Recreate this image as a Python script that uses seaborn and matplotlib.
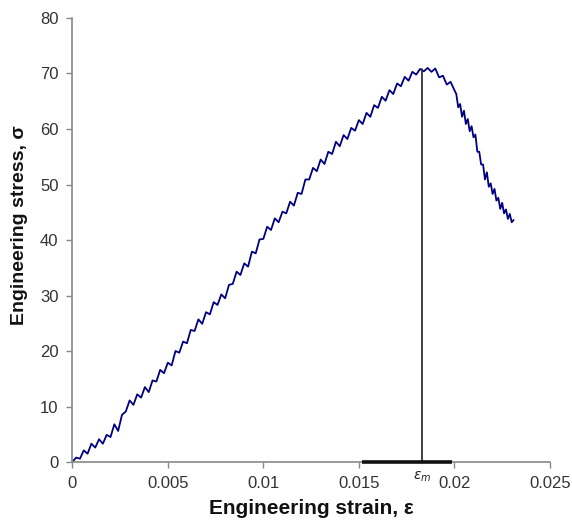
import matplotlib
matplotlib.use("Agg")
import matplotlib.pyplot as plt
import seaborn as sns
import pandas as pd

# ---- data (strain, stress) ----
strain = [0.0000, 0.0002, 0.0004, 0.0006, 0.0008, 0.0010, 0.0012, 0.0014, 0.0016, 0.0018,
          0.0020, 0.0022, 0.0024, 0.0026, 0.0028, 0.0030, 0.0032, 0.0034, 0.0036, 0.0038,
          0.0040, 0.0042, 0.0044, 0.0046, 0.0048, 0.0050, 0.0052, 0.0054, 0.0056, 0.0058,
          0.0060, 0.0062, 0.0064, 0.0066, 0.0068, 0.0070, 0.0072, 0.0074, 0.0076, 0.0078,
          0.0080, 0.0082, 0.0084, 0.0086, 0.0088, 0.0090, 0.0092, 0.0094, 0.0096, 0.0098,
          0.0100, 0.0102, 0.0104, 0.0106, 0.0108, 0.0110, 0.0112, 0.0114, 0.0116, 0.0118,
          0.0120, 0.0122, 0.0124, 0.0126, 0.0128, 0.0130, 0.0132, 0.0134, 0.0136, 0.0138,
          0.0140, 0.0142, 0.0144, 0.0146, 0.0148, 0.0150, 0.0152, 0.0154, 0.0156, 0.0158,
          0.0160, 0.0162, 0.0164, 0.0166, 0.0168, 0.0170, 0.0172, 0.0174, 0.0176, 0.0178,
          0.0180, 0.0182, 0.0184, 0.0186, 0.0188, 0.0190,
          0.0192, 0.0194, 0.0196, 0.0198, 0.0200, 0.0201, 0.0202, 0.0203, 0.0204, 0.0205,
          0.0206, 0.0207, 0.0208, 0.0209, 0.0210, 0.0211, 0.0212, 0.0213, 0.0214, 0.0215,
          0.0216, 0.0217, 0.0218, 0.0219, 0.0220, 0.0221, 0.0222, 0.0223, 0.0224, 0.0225,
          0.0226, 0.0227, 0.0228, 0.0229, 0.0230, 0.0231]
stress = [0.0, 0.8, 0.6, 2.1, 1.5, 3.3, 2.6, 4.1, 3.3, 4.9,
          4.5, 6.8, 5.6, 8.5, 9.1, 11.1, 10.3, 12.2, 11.6, 13.5,
          12.6, 14.7, 14.5, 16.6, 16.0, 17.9, 17.4, 20.0, 19.7, 21.7,
          21.4, 23.8, 23.6, 25.7, 24.9, 27.0, 26.6, 28.8, 28.3, 30.2,
          29.5, 31.9, 32.1, 34.3, 33.7, 35.8, 35.2, 37.9, 37.6, 40.1,
          40.2, 42.4, 41.8, 43.9, 43.2, 45.1, 44.8, 46.9, 46.2, 48.5,
          48.3, 50.9, 50.9, 53.0, 52.4, 54.5, 53.7, 55.9, 55.5, 57.7,
          56.9, 58.9, 58.2, 60.2, 59.7, 61.6, 60.9, 62.9, 62.2, 64.3,
          63.8, 65.8, 65.1, 67.0, 66.3, 68.2, 67.7, 69.4, 68.7, 70.3,
          69.8, 70.8, 70.4, 71.0, 70.3, 70.9,
          69.3, 69.6, 68.0, 68.5, 67.0, 66.3, 63.9, 64.5, 62.2, 63.3,
          60.9, 61.8, 59.6, 60.5, 58.5, 59.0, 55.9, 55.9, 53.6, 53.6,
          50.9, 52.2, 49.6, 50.2, 48.3, 49.2, 47.1, 47.6, 45.6, 46.7,
          44.8, 45.5, 43.8, 44.7, 43.2, 43.6]

eps_m = 0.0183
sigma_max = 70.8
band = [0.01515, 0.01986]

x_ticks = [0, 0.005, 0.01, 0.015, 0.02, 0.025]
x_tick_labels = ["0", "0.005", "0.01", "0.015", "0.02", "0.025"]
y_ticks = [0, 10, 20, 30, 40, 50, 60, 70, 80]

sns.set_theme(style="ticks")
plt.rcParams["font.family"] = ["Liberation Sans", "DejaVu Sans"]

fig = plt.figure(figsize=(5.72, 5.23), dpi=100)
ax = fig.add_axes([0.1264, 0.1166, 0.835, 0.849])

df = pd.DataFrame({"strain": strain, "stress": stress})
sns.lineplot(data=df, x="strain", y="stress", sort=False, estimator=None,
             color="#000080", linewidth=1.3, ax=ax)

ax.plot([eps_m, eps_m], [0, sigma_max], color="#333333", linewidth=1.3, zorder=3)
ax.plot(band, [0, 0], color="#111111", linewidth=2.6, solid_capstyle="butt",
        zorder=4, clip_on=False)
ax.text(eps_m, -1.4, r"$\epsilon_m$", ha="center", va="top", fontsize=10,
        color="#222222")

ax.set_xlim(0, 0.025)
ax.set_ylim(0, 80)
ax.set_xticks(x_ticks)
ax.set_xticklabels(x_tick_labels)
ax.set_yticks(y_ticks)
ax.tick_params(axis="both", direction="out", length=4, width=1,
               color="#888888", labelsize=12, labelcolor="#333333", pad=6)

for s in ["top", "right"]:
    ax.spines[s].set_visible(False)
for s in ["left", "bottom"]:
    ax.spines[s].set_color("#888888")
    ax.spines[s].set_linewidth(1.2)

ax.set_xlabel("Engineering strain, ε", fontsize=15, fontweight="bold",
              color="#111111")
ax.set_ylabel("Engineering stress, σ", fontsize=14, fontweight="bold",
              color="#111111")
ax.xaxis.set_label_coords(0.5, -0.084)
ax.yaxis.set_label_coords(-0.093, 0.534)

fig.savefig("out.png", dpi=100)
